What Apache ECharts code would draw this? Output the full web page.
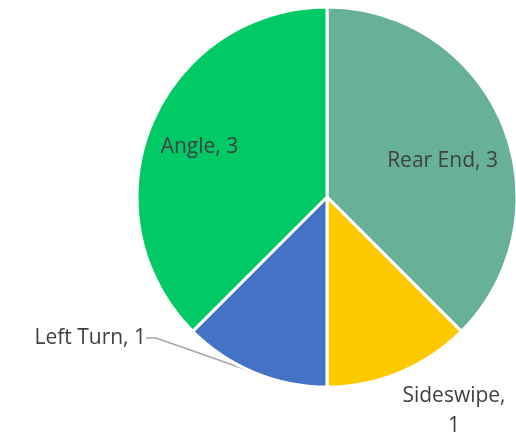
<!DOCTYPE html>
<html>
<head>
<meta charset="utf-8">
<script src="https://cdn.jsdelivr.net/npm/echarts@6/dist/echarts.min.js"></script>
<style>
  html, body { margin: 0; padding: 0; background: #ffffff; }
  #chart { width: 516px; height: 438px; }
</style>
</head>
<body>
<div id="chart"></div>
<script>
// Collision types and their counts
const categories = ['Rear End', 'Sideswipe', 'Left Turn', 'Angle'];
const counts = [3, 1, 1, 3];
const colors = ['#67B196', '#FFC900', '#4472C4', '#00C966'];

const textColor = '#404040';
const font = '"Open Sans", "Liberation Sans", sans-serif';

// Per-slice label placement: big slices inside, small ones outside
const labelStyles = {
  'Rear End': { position: 'inside' },
  'Angle': { position: 'inside' },
  'Left Turn': { position: 'outside' },
  'Sideswipe': { position: 'outside', formatter: '{b},\n{c}', lineHeight: 30, align: 'center' }
};
const labelOffsets = {
  'Rear End': { dx: 25, dy: 2 },
  'Angle': { dx: -37, dy: -12 },
  'Left Turn': { x: 146, y: 338, align: 'right' },
  'Sideswipe': { x: 454, y: 411, align: 'center' }
};

const data = categories.map((name, i) => ({
  name: name,
  value: counts[i],
  itemStyle: { color: colors[i] },
  label: labelStyles[name],
  labelLine: { show: name === 'Left Turn' }
}));

const chart = echarts.init(document.getElementById('chart'), null, { renderer: 'canvas' });
chart.setOption({
  animation: false,
  series: [{
    type: 'pie',
    center: [327, 197],
    radius: 190,
    startAngle: 90,
    clockwise: true,
    avoidLabelOverlap: false,
    itemStyle: { borderColor: '#ffffff', borderWidth: 3 },
    label: {
      show: true,
      formatter: '{b}, {c}',
      color: textColor,
      fontFamily: font,
      fontSize: 21
    },
    labelLine: {
      lineStyle: { color: '#A6A6A6', width: 1.5 },
      length: 20,
      length2: 10
    },
    labelLayout: function (params) {
      const name = categories[params.dataIndex];
      const o = labelOffsets[name];
      return Object.assign({ verticalAlign: 'middle' }, o);
    },
    emphasis: { disabled: true },
    data: data
  }]
});
</script>
</body>
</html>
